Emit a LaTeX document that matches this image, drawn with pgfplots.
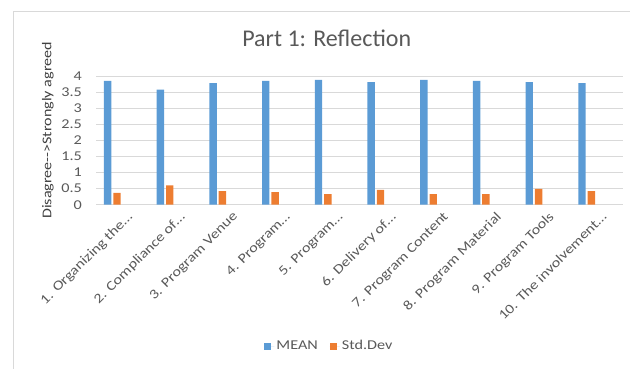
\documentclass[border=0pt]{standalone}
\usepackage{fontspec}
\setmainfont{Carlito}
\newfontfamily\chartfont{Carlito}[FakeStretch=1.2]
\usepackage{pgfplots}
\usepackage{pgfplotstable}
\pgfplotsset{compat=1.18}

\definecolor{meanblue}{HTML}{5B9BD5}
\definecolor{sdorange}{HTML}{ED7D31}
\definecolor{gridgray}{HTML}{D9D9D9}
\definecolor{labelgray}{HTML}{595959}
\definecolor{titlegray}{HTML}{404040}

% Part 1 reflection items: mean score and standard deviation
\pgfplotstableread{
idx mean sd
1  3.85 0.37
2  3.58 0.60
3  3.78 0.42
4  3.85 0.39
5  3.88 0.33
6  3.81 0.46
7  3.88 0.33
8  3.85 0.33
9  3.81 0.49
10 3.78 0.42
}\reflection

\begin{document}
\begin{tikzpicture}
\useasboundingbox (0,0) rectangle (630bp,369bp);
% chart frame
\draw[gridgray, line width=0.75bp] (13bp,0) -- (13bp,358bp) -- (630bp,358bp);
% title
\node[anchor=base, text=labelgray, font=\fontsize{24bp}{28bp}\selectfont]
  at (326.7bp,322.3bp) {Part 1: Reflection};
\begin{axis}[
  at={(96bp,164.3bp)}, anchor=south west,
  width=527bp, height=128.7bp, scale only axis,
  xmin=0.5, xmax=10.5, ymin=0, ymax=4,
  ytick={0,0.5,1,1.5,2,2.5,3,3.5,4},
  xtick={1,2,3,4,5,6,7,8,9,10},
  xticklabels={1. Organizing the\dots, 2. Compliance of\dots, 3. Program Venue,
    4. Program\dots, 5. Program\dots, 6. Delivery of\dots, 7. Program Content,
    8. Program Material, 9. Program Tools, 10. The involvement\dots},
  axis line style={draw=none},
  major tick length=0pt,
  ymajorgrids,
  grid style={gridgray, line width=0.9bp},
  /pgf/number format/assume math mode=true,
  tick label style={font=\chartfont\fontsize{13.5bp}{16bp}\selectfont, text=labelgray},
  yticklabel style={anchor=east, inner sep=0pt, xshift=-14bp},
  xticklabel style={anchor=north east, inner sep=0pt, xshift=4bp, yshift=-6bp, rotate=45},
  ylabel={Disagree-{}-{}>Strongly agreed},
  every axis y label/.style={at={(axis description cs:-0.0911,0.577)}, rotate=90,
    anchor=center, font=\chartfont\fontsize{13.4bp}{16bp}\selectfont, text=titlegray},
  legend style={at={(axis description cs:0.443,-1.098)}, anchor=center, draw=none,
    font=\chartfont\fontsize{13.5bp}{16bp}\selectfont, text=labelgray,
    /tikz/every even column/.append style={column sep=10bp}},
  legend columns=2,
  legend image code/.code={\fill[#1] (0bp,-3.5bp) rectangle (7bp,3.5bp);
    \path (0bp,0bp) -- (10bp,0bp);},
]
\addplot[ybar, bar width=7.4bp, bar shift=-14.7bp, fill=meanblue, draw=none]
  table[x=idx, y=mean] {\reflection};
\addlegendentry{MEAN}
\addplot[ybar, bar width=7.4bp, bar shift=-5.35bp, fill=sdorange, draw=none]
  table[x=idx, y=sd] {\reflection};
\addlegendentry{Std.Dev}
\end{axis}
\end{tikzpicture}
\end{document}
